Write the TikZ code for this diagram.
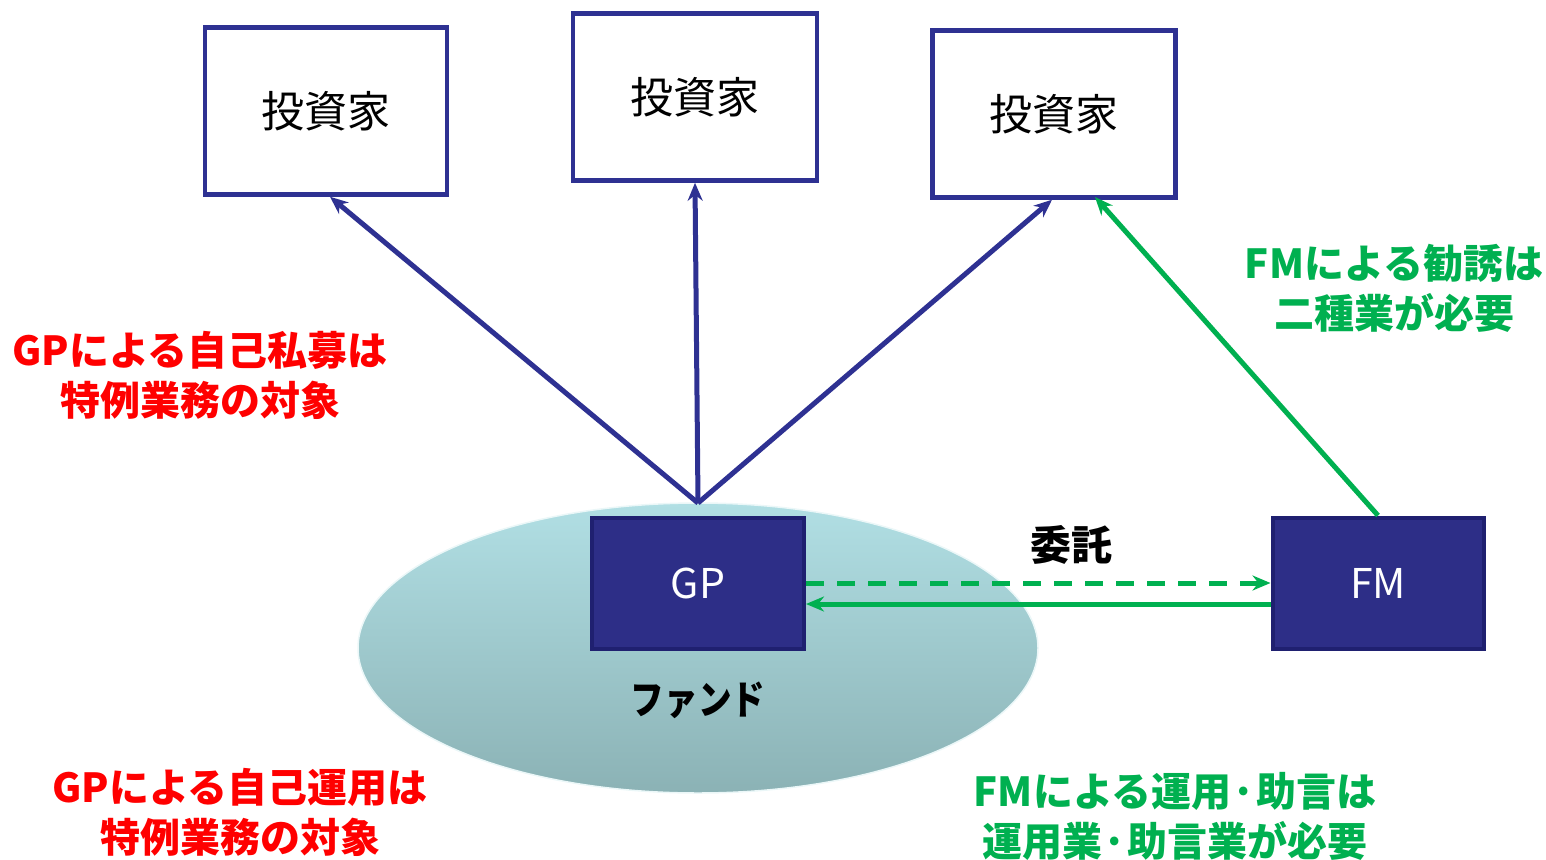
\documentclass[tikz,border=0pt]{standalone}
\usepackage{fontspec}
\setmainfont{Noto Sans CJK JP}
\usetikzlibrary{arrows.meta,shapes.geometric}
\definecolor{navy}{HTML}{2E3192}
\definecolor{boxfill}{HTML}{2D2E87}
\definecolor{boxedge}{HTML}{1F2070}
\definecolor{gr}{HTML}{00B050}
\definecolor{rd}{HTML}{FF0000}
\definecolor{elltop}{HTML}{B1DFE4}
\definecolor{ellbot}{HTML}{8BB2B5}
\tikzset{
  invbox/.style={draw=navy, line width=4.5pt, fill=white, minimum width=242pt, minimum height=167pt, inner sep=0pt,
     font=\fontsize{43}{46}\selectfont},
  actor/.style={draw=boxedge, line width=4pt, fill=boxfill, text=white, minimum width=211pt, minimum height=131pt, inner sep=0pt,
     font=\fontsize{41}{44}\selectfont},
  navyarrow/.style={draw=navy, line width=5pt, -{Stealth[length=18pt,width=15pt]}},
  greenarrow/.style={draw=gr, line width=5pt, -{Stealth[length=18pt,width=15pt]}},
  note/.style={font=\fontsize{40}{50}\selectfont\bfseries, align=center, inner sep=0pt},
  lbl/.style={font=\fontsize{41}{44}\selectfont\bfseries, inner sep=0pt}
}
\begin{document}
\begin{tikzpicture}[x=1pt,y=-1pt]
\useasboundingbox (0,0) rectangle (1546,859);
% fund ellipse
\node[ellipse, minimum width=680pt, minimum height=290pt, top color=elltop, bottom color=ellbot, draw=white!75!elltop, line width=1.5pt] (fund) at (698,648) {};
% investors
\node[invbox] (inv1) at (326,111) {投資家};
\node[invbox, minimum width=244pt] (inv2) at (695,97) {投資家};
\node[invbox, minimum width=243pt] (inv3) at (1054,114) {投資家};
% GP and FM
\node[actor, minimum width=212pt] (gp) at (698,583) {GP};
\node[actor] (fm) at (1378,583) {FM};
% sources
\coordinate (src) at (698,503);
\coordinate (g3) at (1095,197);
% navy arrows
\draw[navyarrow] (src) -- ([xshift=4pt]inv1.south);
\draw[navyarrow] (src) -- (inv2.south);
\draw[navyarrow] (src) -- ([xshift=-2pt]inv3.south);
% green arrows
\draw[greenarrow] (fm.north) -- (g3);
\draw[greenarrow, dash pattern=on 18pt off 13pt] (gp.east) -- (fm.west);
\draw[greenarrow] ([yshift=-21pt]fm.west) -- ([yshift=-21pt]gp.east);
% labels
\node[lbl] (itaku) at (1071,545) {委託};
\node[lbl, font=\fontsize{40}{44}\selectfont\bfseries] (fundlbl) at (698,700) {\scalebox{0.84}[1]{ファンド}};
\node[note, text=rd] (n1) at (200,375) {GPによる自己私募は\\特例業務の対象};
\node[note, text=rd] (n2) at (240,812) {GPによる自己運用は\\特例業務の対象};
\node[note, text=gr] (n3) at (1394,288) {FMによる勧誘は\\二種業が必要};
\node[note, text=gr] (n4) at (1175,816) {FMによる運用·助言は\\運用業·助言業が必要};
\end{tikzpicture}
\end{document}
